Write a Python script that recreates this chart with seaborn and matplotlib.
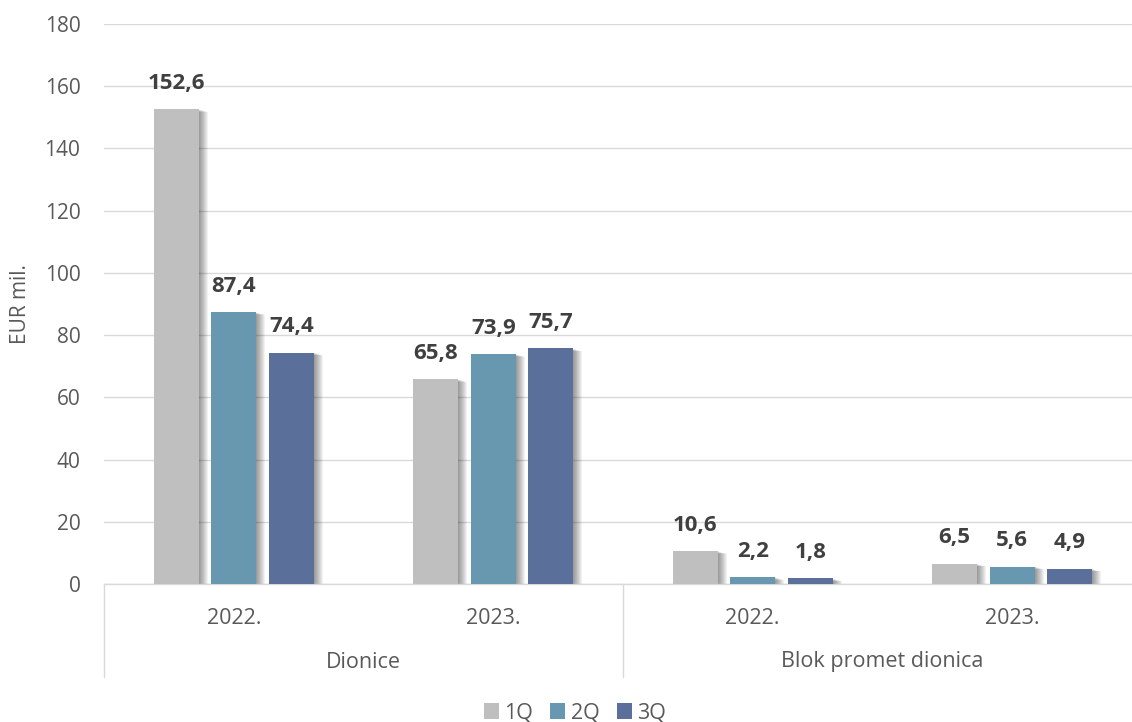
import numpy as np
import pandas as pd
import matplotlib
matplotlib.use("Agg")
import matplotlib.pyplot as plt
import matplotlib.transforms as mtransforms
from matplotlib.patches import Rectangle
import seaborn as sns

# Data
groups = ["Dionice", "Dionice", "Blok promet dionica", "Blok promet dionica"]
years = ["2022.", "2023.", "2022.", "2023."]
quarters = ["1Q", "2Q", "3Q"]
q1 = [152.6, 65.8, 10.6, 6.5]
q2 = [87.4, 73.9, 2.2, 5.6]
q3 = [74.4, 75.7, 1.8, 4.9]
colors = ["#BFBFBF", "#6897B0", "#5A6F99"]

TXT = "#595959"
GRID = "#D9D9D9"

rows = []
for i, (g, y) in enumerate(zip(groups, years)):
    for q, vals in zip(quarters, [q1, q2, q3]):
        rows.append({"kat": f"{g} {y}", "kvartal": q, "vrijednost": vals[i]})
df = pd.DataFrame(rows)
order = [f"{g} {y}" for g, y in zip(groups, years)]

sns.set_theme(style="white")
plt.rcParams["font.family"] = ["Open Sans", "DejaVu Sans"]

fig = plt.figure(figsize=(11.32, 7.22), dpi=100)
ax = fig.add_axes([104 / 1132, 138 / 722, 1038 / 1132, 560 / 722])

sns.barplot(data=df, x="kat", y="vrijednost", hue="kvartal", order=order,
            hue_order=quarters, palette=colors, width=0.665, gap=0.22,
            saturation=1, linewidth=0, ax=ax, zorder=3)

handles, labels = ax.get_legend_handles_labels()
if ax.get_legend() is not None:
    ax.get_legend().remove()

ax.set_xlim(-0.5, 3.5)
ax.set_ylim(0, 180)
ax.set_yticks(np.arange(0, 181, 20))
ax.yaxis.grid(True, color=GRID, linewidth=1, zorder=0)
ax.set_axisbelow(True)
for s in ["left", "right", "top"]:
    ax.spines[s].set_visible(False)
ax.spines["bottom"].set_color(GRID)
ax.spines["bottom"].set_linewidth(1)
ax.tick_params(axis="y", length=0, pad=17, labelsize=15, labelcolor=TXT)
ax.tick_params(axis="x", length=0, pad=17, labelsize=15.5, labelcolor=TXT)
ax.set_xticks(range(len(years)))
ax.set_xticklabels(years)
ax.set_xlabel("")
ax.set_ylabel("")

# soft shadow to the right of each bar
px_x = 4 / 1038.0
px_y = 180 / 560.0
for cont in ax.containers:
    for bar in cont:
        x0, y0 = bar.get_x(), bar.get_y()
        w, h = bar.get_width(), bar.get_height()
        for s in range(1, 10):
            ax.add_patch(Rectangle((x0 + s * px_x, y0 - s * 0.3 * px_y), w, h,
                                   facecolor="black", alpha=0.05,
                                   linewidth=0, zorder=2))

# value labels
for cont, vals in zip(ax.containers, [q1, q2, q3]):
    ax.bar_label(cont, labels=[f"{v:.1f}".replace(".", ",") for v in vals],
                 padding=11, fontsize=16, fontweight="bold", color="#404040")

# second level of the category axis
trans = mtransforms.blended_transform_factory(ax.transData, ax.transAxes)
for xv in [-0.5, 1.5, 3.5]:
    ax.plot([xv, xv], [0, -93 / 560], transform=trans, color=GRID,
            linewidth=1, clip_on=False)
ax.text(0.5, -78 / 560, "Dionice", transform=trans, ha="center", va="center",
        fontsize=15.5, color=TXT)
ax.text(2.5, -78 / 560, "Blok promet dionica", transform=trans, ha="center",
        va="center", fontsize=15.5, color=TXT)

fig.text(20 / 1132, 1 - 304 / 722, "EUR mil.", rotation=90, ha="center",
         va="center", fontsize=15, color=TXT)

fig.legend(handles, labels, loc="center", bbox_to_anchor=(575 / 1132, 9 / 722),
           ncol=3, frameon=False, handlelength=0.7, handleheight=0.7,
           handletextpad=0.25, columnspacing=0.8, fontsize=15.5,
           labelcolor=TXT, borderaxespad=0)

fig.savefig("out.png", dpi=100)
